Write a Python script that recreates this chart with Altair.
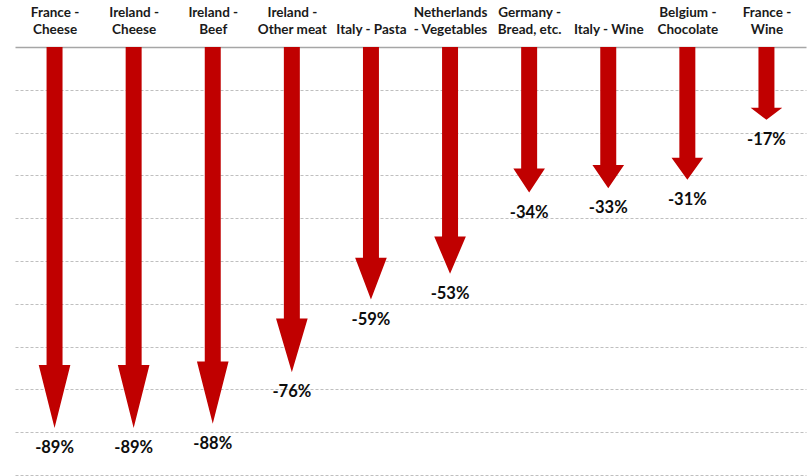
import json
import altair as alt
import pandas as pd

# ---- data -------------------------------------------------------------
categories = [
    "France -|Cheese",
    "Ireland -|Cheese",
    "Ireland -|Beef",
    "Ireland -|Other meat",
    "Italy - Pasta",
    "Netherlands|- Vegetables",
    "Germany -|Bread, etc.",
    "Italy - Wine",
    "Belgium -|Chocolate",
    "France -|Wine",
]
values = [-89, -89, -88, -76, -59, -53, -34, -33, -31, -17]
value_labels = ["-89%", "-89%", "-88%", "-76%", "-59%", "-53%", "-34%", "-33%", "-31%", "-17%"]

# ---- style constants --------------------------------------------------
RED = "#C00000"
SHAFT_HALF = 0.101   # in category units
HEAD_HALF = 0.20
HEAD_FRAC = 0.165    # arrow head length as share of arrow length

# build arrow polygons from the values
rows = []
for i, (cat, v) in enumerate(zip(categories, values)):
    hs = v * (1 - HEAD_FRAC)
    rows += [
        dict(cat=cat, idx=i, y=0.0, x=i - SHAFT_HALF, x2=i + SHAFT_HALF),
        dict(cat=cat, idx=i, y=hs + 0.001, x=i - SHAFT_HALF, x2=i + SHAFT_HALF),
        dict(cat=cat, idx=i, y=hs, x=i - HEAD_HALF, x2=i + HEAD_HALF),
        dict(cat=cat, idx=i, y=float(v), x=float(i), x2=float(i)),
    ]
arrows = pd.DataFrame(rows)
labels_df = pd.DataFrame({"idx": list(range(len(values))), "v": values, "lab": value_labels})

split_expr = "split(" + json.dumps(categories) + "[datum.value], '|')"
label_expr = f"length({split_expr}) == 1 ? ['', {split_expr}[0]] : {split_expr}"

xscale = alt.Scale(domain=[-0.5, len(categories) - 0.5], nice=False, zero=False)
yscale = alt.Scale(domain=[-100, 0], nice=False)

xaxis = alt.Axis(
    orient="top", values=list(range(len(categories))), labelExpr=label_expr,
    title=None, ticks=False, grid=False, domain=True, domainColor="#A6A6A6",
    domainWidth=1.5, labelFont="Lato", labelFontWeight="bold", labelFontSize=13.5,
    labelColor="#1A1A1A", labelLineHeight=17, labelBaseline="bottom",
    labelPadding=28, labelFlush=False, labelOverlap=False, labelAlign="center",
)
yaxis = alt.Axis(
    values=[-10, -20, -30, -40, -50, -60, -70, -80, -90, -100],
    labels=False, ticks=False, domain=False, title=None, grid=True,
    gridColor="#BFBFBF", gridDash=[3, 2], gridWidth=1,
)

arrow_layer = alt.Chart(arrows).mark_area(orient="horizontal", color=RED).encode(
    y=alt.Y("y:Q", scale=yscale, axis=yaxis),
    x=alt.X("x:Q", scale=xscale, axis=xaxis),
    x2="x2:Q",
    detail="cat:N",
)

text_layer = alt.Chart(labels_df).mark_text(
    font="Lato", fontWeight="bold", fontSize=16.5, color="#0D0D0D",
    baseline="middle", align="center", dy=20,
).encode(
    x=alt.X("idx:Q", scale=xscale),
    y=alt.Y("v:Q", scale=yscale),
    text="lab:N",
)

chart = alt.layer(arrow_layer, text_layer).properties(
    width=791, height=428,
    autosize=alt.AutoSizeParams(type="none"),
    padding={"left": 15, "top": 47, "right": 2, "bottom": 1},
    background="white",
).configure_view(stroke=None)

chart.save("out.html", embed_options={"renderer": "svg", "actions": False})
